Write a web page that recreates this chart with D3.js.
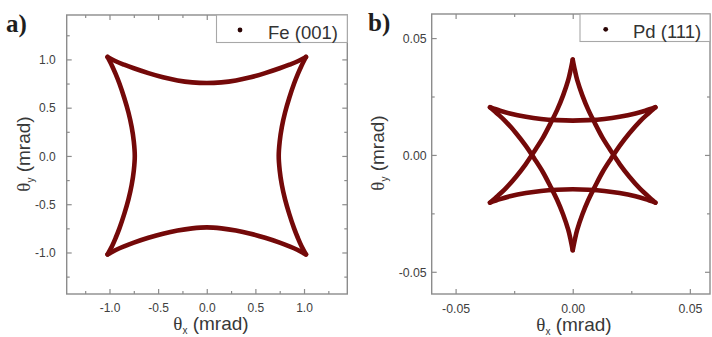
<!DOCTYPE html>
<html>
<head>
<meta charset="utf-8">
<script src="https://cdn.jsdelivr.net/npm/d3@7"></script>
<style>
  html, body { margin: 0; padding: 0; background: #fff; }
  svg { display: block; }
</style>
</head>
<body>
<svg id="chart" width="712" height="337"></svg>
<script>
// ---------------- DATA ----------------
// Panel a) Fe (001): four concave sides of the closed curve (θx, θy in mrad)
const feTop = [[-1.02,1.025],[-0.93,0.978],[-0.85,0.945],[-0.75,0.908],[-0.60,0.858],[-0.45,0.815],[-0.30,0.782],[-0.15,0.762],[0,0.755],[0.15,0.762],[0.30,0.782],[0.45,0.815],[0.60,0.858],[0.75,0.908],[0.85,0.945],[0.93,0.978],[1.02,1.025]];
const feRight = [[1.02,1.025],[0.972,0.93],[0.937,0.85],[0.898,0.75],[0.848,0.60],[0.805,0.45],[0.772,0.30],[0.750,0.15],[0.740,0],[0.750,-0.15],[0.772,-0.30],[0.805,-0.45],[0.848,-0.60],[0.898,-0.75],[0.937,-0.85],[0.972,-0.93],[1.02,-1.02]];
const feBottom = [[1.02,-1.02],[0.93,-0.972],[0.85,-0.937],[0.75,-0.898],[0.60,-0.848],[0.45,-0.805],[0.30,-0.772],[0.15,-0.750],[0,-0.740],[-0.15,-0.750],[-0.30,-0.772],[-0.45,-0.805],[-0.60,-0.848],[-0.75,-0.898],[-0.85,-0.937],[-0.93,-0.972],[-1.02,-1.02]];
const feLeft = [[-1.02,-1.02],[-0.972,-0.93],[-0.937,-0.85],[-0.898,-0.75],[-0.848,-0.60],[-0.805,-0.45],[-0.772,-0.30],[-0.750,-0.15],[-0.740,0],[-0.750,0.15],[-0.772,0.30],[-0.805,0.45],[-0.848,0.60],[-0.898,0.75],[-0.937,0.85],[-0.972,0.93],[-1.02,1.025]];

// Panel b) Pd (111): six arcs of the star-shaped curve (θx, θy in mrad)
const pdTop = [[-0.0353,0.0204],[-0.0310,0.0189],[-0.0268,0.0177],[-0.0200,0.0163],[-0.0135,0.0154],[-0.0067,0.0149],[0,0.0147],[0.0067,0.0149],[0.0135,0.0154],[0.0200,0.0163],[0.0268,0.0177],[0.0310,0.0189],[0.0353,0.0204]];
const pdBottom = [[-0.0353,-0.0204],[-0.0310,-0.0189],[-0.0268,-0.0177],[-0.0200,-0.0163],[-0.0135,-0.0154],[-0.0067,-0.0149],[0,-0.0147],[0.0067,-0.0149],[0.0135,-0.0154],[0.0200,-0.0163],[0.0268,-0.0177],[0.0310,-0.0189],[0.0353,-0.0204]];
const pdLowLeft = [[0,-0.0408],[-0.0009,-0.0363],[-0.0019,-0.0321],[-0.0041,-0.0255],[-0.0066,-0.0194],[-0.0096,-0.0133],[-0.0127,-0.0074],[-0.0163,-0.0017],[-0.0201,0.0040],[-0.0241,0.0092],[-0.0287,0.0144],[-0.0319,0.0174],[-0.0353,0.0204]];
const pdLowRight = [[0,-0.0408],[0.0009,-0.0363],[0.0019,-0.0321],[0.0041,-0.0255],[0.0066,-0.0194],[0.0096,-0.0133],[0.0127,-0.0074],[0.0163,-0.0017],[0.0201,0.0040],[0.0241,0.0092],[0.0287,0.0144],[0.0319,0.0174],[0.0353,0.0204]];
const pdUpLeft = [[0,0.0408],[-0.0009,0.0363],[-0.0019,0.0321],[-0.0041,0.0255],[-0.0066,0.0194],[-0.0096,0.0133],[-0.0127,0.0074],[-0.0163,0.0017],[-0.0201,-0.0040],[-0.0241,-0.0092],[-0.0287,-0.0144],[-0.0319,-0.0174],[-0.0353,-0.0204]];
const pdUpRight = [[0,0.0408],[0.0009,0.0363],[0.0019,0.0321],[0.0041,0.0255],[0.0066,0.0194],[0.0096,0.0133],[0.0127,0.0074],[0.0163,0.0017],[0.0201,-0.0040],[0.0241,-0.0092],[0.0287,-0.0144],[0.0319,-0.0174],[0.0353,-0.0204]];

// Ticks
const feMajor = [-1.0, -0.5, 0.0, 0.5, 1.0];
const feMajorLabels = ["-1.0", "-0.5", "0.0", "0.5", "1.0"];
const feMinor = [-1.25, -0.75, -0.25, 0.25, 0.75, 1.25];
const pdMajor = [-0.05, 0.0, 0.05];
const pdMajorLabels = ["-0.05", "0.00", "0.05"];
const pdMinor = [-0.025, 0.025];

const legendFe = "Fe (001)";
const legendPd = "Pd (111)";

// ---------------- DRAW ----------------
const svg = d3.select("#chart");
const curveColor = "#740909";
const frameColor = "#8c8c8c";
const tickTextColor = "#404040";

function panel(opts) {
  const { xDom, yDom, xRng, yRng, major, majorLabels, minor, arcs, legend, tickFont, yLabelGap, xLabelY } = opts;
  const x = d3.scaleLinear().domain(xDom).range(xRng);
  const y = d3.scaleLinear().domain(yDom).range(yRng);
  const g = svg.append("g");

  // data curves
  const line = d3.line().x(d => x(d[0])).y(d => y(d[1])).curve(d3.curveCatmullRom.alpha(0.5));
  g.selectAll("path.arc").data(arcs).join("path")
    .attr("class", "arc")
    .attr("d", line)
    .attr("fill", "none")
    .attr("stroke", curveColor)
    .attr("stroke-width", 4.6)
    .attr("stroke-linecap", "round")
    .attr("stroke-linejoin", "round");

  // axes ticks inward on all 4 sides
  const labelFmt = v => majorLabels[major.indexOf(v)];
  const mk = (axisFn, scale, tx, ty, vals, size, labels) => {
    const a = axisFn(scale).tickValues(vals).tickSizeInner(-size).tickSizeOuter(0)
      .tickFormat(labels ? labelFmt : () => "");
    const ag = g.append("g").attr("transform", `translate(${tx},${ty})`).call(a);
    ag.select(".domain").remove();
    ag.selectAll(".tick line").attr("stroke", frameColor).attr("stroke-width", 1.2);
    ag.selectAll(".tick text").attr("fill", tickTextColor)
      .style("font-family", "Arial, 'Liberation Sans', sans-serif")
      .style("font-size", tickFont + "px");
    return ag;
  };
  const bx = mk(d3.axisBottom, x, 0, yRng[0], major, 5, true);
  bx.selectAll(".tick text").attr("y", xLabelY - yRng[0]).attr("dy", 0);
  mk(d3.axisBottom, x, 0, yRng[0], minor, 3, false);
  mk(d3.axisTop, x, 0, yRng[1], major, 5, false);
  mk(d3.axisTop, x, 0, yRng[1], minor, 3, false);
  const ly = mk(d3.axisLeft, y, xRng[0], 0, major, 5, true);
  ly.selectAll(".tick text").attr("x", -yLabelGap).attr("dy", "0.35em");
  mk(d3.axisLeft, y, xRng[0], 0, minor, 3, false);
  mk(d3.axisRight, y, xRng[1], 0, major, 5, false);
  mk(d3.axisRight, y, xRng[1], 0, minor, 3, false);

  // frame
  g.append("rect")
    .attr("x", xRng[0]).attr("y", yRng[1])
    .attr("width", xRng[1] - xRng[0]).attr("height", yRng[0] - yRng[1])
    .attr("fill", "none").attr("stroke", frameColor).attr("stroke-width", 1.4);

  // legend
  const lg = g.append("g");
  lg.append("rect")
    .attr("x", legend.x0).attr("y", legend.y0)
    .attr("width", legend.x1 - legend.x0).attr("height", legend.y1 - legend.y0)
    .attr("fill", "#fff").attr("stroke", "#a8a8a8").attr("stroke-width", 1.1);
  lg.append("circle").attr("cx", legend.mx).attr("cy", legend.my).attr("r", 2.4).attr("fill", "#2a0404");
  lg.append("text").attr("x", legend.tx).attr("y", legend.ty)
    .attr("fill", "#333")
    .style("font-family", "Arial, 'Liberation Sans', sans-serif")
    .style("font-size", "18.5px")
    .text(legend.text);
  return { x, y };
}

panel({
  xDom: [-1.44, 1.445], yDom: [-1.43, 1.46],
  xRng: [66.7, 347.3], yRng: [294, 15],
  major: feMajor, majorLabels: feMajorLabels, minor: feMinor,
  arcs: [feTop, feRight, feBottom, feLeft],
  legend: { x0: 216.5, x1: 347.3, y0: 15, y1: 42.5, mx: 240, my: 30, tx: 268, ty: 38.5, text: legendFe },
  tickFont: 12, yLabelGap: 11, xLabelY: 311.5
});

panel({
  xDom: [-0.0602, 0.0586], yDom: [-0.0595, 0.0603],
  xRng: [431.7, 710], yRng: [294, 14],
  major: pdMajor, majorLabels: pdMajorLabels, minor: pdMinor,
  arcs: [pdTop, pdBottom, pdLowLeft, pdLowRight, pdUpLeft, pdUpRight],
  legend: { x0: 580, x1: 710, y0: 14, y1: 41.5, mx: 605.7, my: 29.3, tx: 633, ty: 37.5, text: legendPd },
  tickFont: 12.3, yLabelGap: 5, xLabelY: 312.5
});

// axis titles
function axisTitle(sub, transform) {
  const t = svg.append("text").attr("transform", transform).attr("text-anchor", "middle")
    .attr("fill", "#383838").style("font-size", "19px");
  t.append("tspan").style("font-family", "'Liberation Serif', 'Times New Roman', serif").text("θ");
  t.append("tspan").style("font-family", "Arial, 'Liberation Sans', sans-serif").style("font-size", "10px").attr("dy", 4).text(sub);
  t.append("tspan").style("font-family", "Arial, 'Liberation Sans', sans-serif").attr("dy", -4).text(" (mrad)");
}
axisTitle("x", "translate(211,330)");
axisTitle("x", "translate(574,331)");
axisTitle("y", "translate(30,154) rotate(-90)");
axisTitle("y", "translate(384,153) rotate(-90)");

// panel labels
svg.append("text").attr("x", 6).attr("y", 32).attr("fill", "#1e1e1e")
  .style("font-family", "'Liberation Serif', 'Times New Roman', serif").style("font-size", "25px").style("font-weight", "bold")
  .text("a)");
svg.append("text").attr("x", 368).attr("y", 31).attr("fill", "#1e1e1e")
  .style("font-family", "'Liberation Serif', 'Times New Roman', serif").style("font-size", "25px").style("font-weight", "bold")
  .text("b)");
</script>
</body>
</html>
